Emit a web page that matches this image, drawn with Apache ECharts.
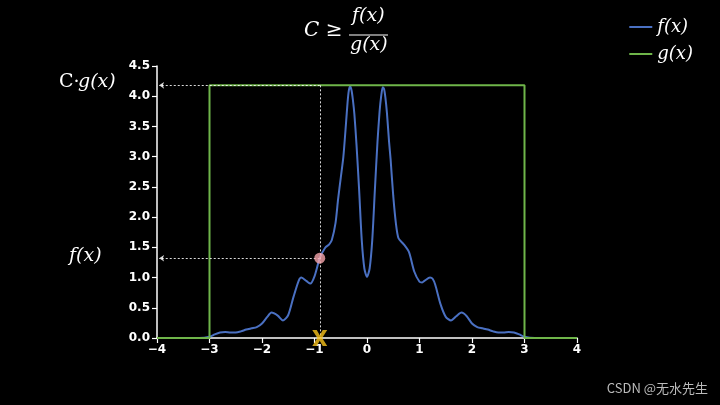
<!DOCTYPE html>
<html>
<head>
<meta charset="utf-8">
<script src="https://cdn.jsdelivr.net/npm/echarts@6/dist/echarts.min.js"></script>
<style>
  html, body { margin: 0; padding: 0; background: #000; }
  #chart { width: 720px; height: 405px; }
</style>
</head>
<body>
<div id="chart"></div>
<script>
// f(x): 采样点
const fX = [-4, -3.2, -3.0, -2.9, -2.8, -2.7, -2.6, -2.5, -2.4, -2.3, -2.2, -2.1, -2.0, -1.9, -1.82, -1.7, -1.6, -1.5, -1.4, -1.3, -1.25, -1.15, -1.08, -1.0, -0.9, -0.8, -0.72, -0.67, -0.6, -0.55, -0.5, -0.45, -0.4, -0.37, -0.345, -0.32, -0.295, -0.27, -0.24, -0.2, -0.15, -0.1, -0.05,
  0, 0.05, 0.1, 0.15, 0.2, 0.24, 0.27, 0.3, 0.325, 0.35, 0.38, 0.42, 0.45, 0.5, 0.55, 0.6, 0.7, 0.8, 0.9, 1.0, 1.05, 1.1, 1.2, 1.25, 1.3, 1.4, 1.5, 1.6, 1.7, 1.8, 1.9, 2.0, 2.1, 2.2, 2.3, 2.4, 2.5, 2.6, 2.7, 2.8, 2.9, 3.0, 3.2, 4]
const fY = [0, 0, 0.02, 0.06, 0.09, 0.1, 0.09, 0.09, 0.11, 0.14, 0.16, 0.18, 0.24, 0.35, 0.42, 0.37, 0.29, 0.38, 0.68, 0.95, 1.0, 0.94, 0.9, 1.02, 1.32, 1.49, 1.55, 1.62, 1.9, 2.3, 2.65, 3.0, 3.55, 3.9, 4.1, 4.16, 4.1, 3.95, 3.7, 3.2, 2.45, 1.62, 1.15,
  1.01, 1.15, 1.62, 2.45, 3.25, 3.75, 4.0, 4.15, 4.12, 3.98, 3.72, 3.25, 2.95, 2.35, 1.9, 1.65, 1.55, 1.42, 1.1, 0.93, 0.92, 0.95, 1.0, 0.98, 0.88, 0.56, 0.35, 0.29, 0.36, 0.42, 0.36, 0.24, 0.18, 0.16, 0.14, 0.11, 0.09, 0.09, 0.1, 0.09, 0.06, 0.02, 0, 0]

// g(x): 均匀分布 * C
const gX = [-4, -3, -3, 3, 3, 4]
const gY = [0, 0, 4.18, 4.18, 0, 0]

const cg = 4.18
const sampleX = -0.9
const sampleY = 1.32

const xTicks = { min: -4, max: 4, step: 1 }
const yTicks = { min: 0, max: 4.5, step: 0.5 }

const zip = (a, b) => a.map((v, i) => [v, b[i]])

const chart = echarts.init(document.getElementById('chart'))

const serif = 'DejaVu Serif'
const dash = { color: 'rgba(255,255,255,0.85)', width: 1, type: [2, 2] }

chart.setOption({
  backgroundColor: '#000',
  animation: false,
  grid: { left: 157, right: 143, top: 66, bottom: 67 },
  legend: {
    orient: 'vertical',
    right: 22,
    top: 13,
    itemWidth: 23,
    itemHeight: 2,
    itemGap: 9,
    icon: 'rect',
    textStyle: { color: '#fff', fontFamily: serif, fontStyle: 'italic', fontSize: 18 },
    data: ['f(x)', 'g(x)']
  },
  xAxis: {
    type: 'value',
    min: xTicks.min,
    max: xTicks.max,
    interval: xTicks.step,
    splitLine: { show: false },
    axisLine: { onZero: false, lineStyle: { color: '#fff', width: 1.5 } },
    axisTick: { show: true, length: 5, lineStyle: { color: '#fff', width: 1.2 } },
    axisLabel: {
      color: '#fff', fontWeight: 'bold', fontSize: 12, fontFamily: 'DejaVu Sans', margin: 6,
      formatter: v => String(v).replace('-', '\u2212')
    }
  },
  yAxis: {
    type: 'value',
    min: yTicks.min,
    max: yTicks.max,
    interval: yTicks.step,
    splitLine: { show: false },
    axisLine: { show: true, onZero: false, lineStyle: { color: '#fff', width: 1.5 } },
    axisTick: { show: true, length: 5, lineStyle: { color: '#fff', width: 1.2 } },
    axisLabel: {
      color: '#fff', fontWeight: 'bold', fontSize: 12, fontFamily: 'DejaVu Sans', margin: 7,
      formatter: v => v.toFixed(1)
    }
  },
  graphic: [
    // 标题 C ≥ f(x)/g(x)
    { type: 'text', left: 304, top: 21, style: { text: 'C ≥', fill: '#fff', font: 'italic 20px "DejaVu Serif"' } },
    { type: 'text', left: 352, top: 7, style: { text: 'f(x)', fill: '#fff', font: 'italic 19px "DejaVu Serif"' } },
    { type: 'line', shape: { x1: 349, y1: 35, x2: 388, y2: 35 }, style: { stroke: '#fff', lineWidth: 1.2 } },
    { type: 'text', left: 350, top: 36, style: { text: 'g(x)', fill: '#fff', font: 'italic 19px "DejaVu Serif"' } },
    // 左侧标注
    { type: 'text', left: 59, top: 73, style: { text: 'C·', fill: '#fff', font: '19px "DejaVu Serif"' } },
    { type: 'text', left: 78, top: 73, style: { text: 'g(x)', fill: '#fff', font: 'italic 19px "DejaVu Serif"' } },
    { type: 'text', left: 69, top: 247, style: { text: 'f(x)', fill: '#fff', font: 'italic 19px "DejaVu Serif"' } },
    // 水印
    { type: 'text', right: 12, top: 382, style: { text: 'CSDN @无水先生', fill: '#bbb', font: '13px "Noto Sans CJK SC"' } }
  ],
  series: [
    {
      name: 'f(x)',
      type: 'line',
      data: zip(fX, fY),
      smooth: 0.25,
      showSymbol: false,
      symbol: 'none',
      z: 3,
      lineStyle: { color: '#4a70c2', width: 2 },
      itemStyle: { color: '#4a70c2' }
    },
    {
      name: 'g(x)',
      type: 'line',
      data: zip(gX, gY),
      showSymbol: false,
      symbol: 'none',
      z: 4,
      lineStyle: { color: '#6fb54a', width: 2 },
      itemStyle: { color: '#6fb54a' }
    },
    {
      // 辅助虚线
      type: 'line',
      data: [],
      z: 2,
      markLine: {
        silent: true,
        symbol: ['none', 'arrow'],
        symbolSize: 5,
        label: { show: false },
        lineStyle: dash,
        data: [
          [{ coord: [sampleX, cg] }, { coord: [xTicks.min + 0.04, cg] }],
          [{ coord: [sampleX, sampleY] }, { coord: [xTicks.min + 0.04, sampleY] }],
          [{ coord: [sampleX, cg], symbol: 'none' }, { coord: [sampleX, 0], symbol: 'none' }]
        ]
      }
    },
    {
      type: 'scatter',
      data: [[sampleX, sampleY]],
      symbolSize: 11,
      z: 6,
      itemStyle: { color: '#f6a5ab' }
    },
    {
      type: 'scatter',
      data: [[sampleX, 0]],
      symbol: 'path://M0,0 L3,0 L5,3.6 L7,0 L10,0 L6.6,5.5 L10,11 L7,11 L5,7.4 L3,11 L0,11 L3.4,5.5 Z',
      symbolSize: [15, 16],
      z: 7,
      itemStyle: { color: '#f7c21a' }
    }
  ]
})
</script>
</body>
</html>
